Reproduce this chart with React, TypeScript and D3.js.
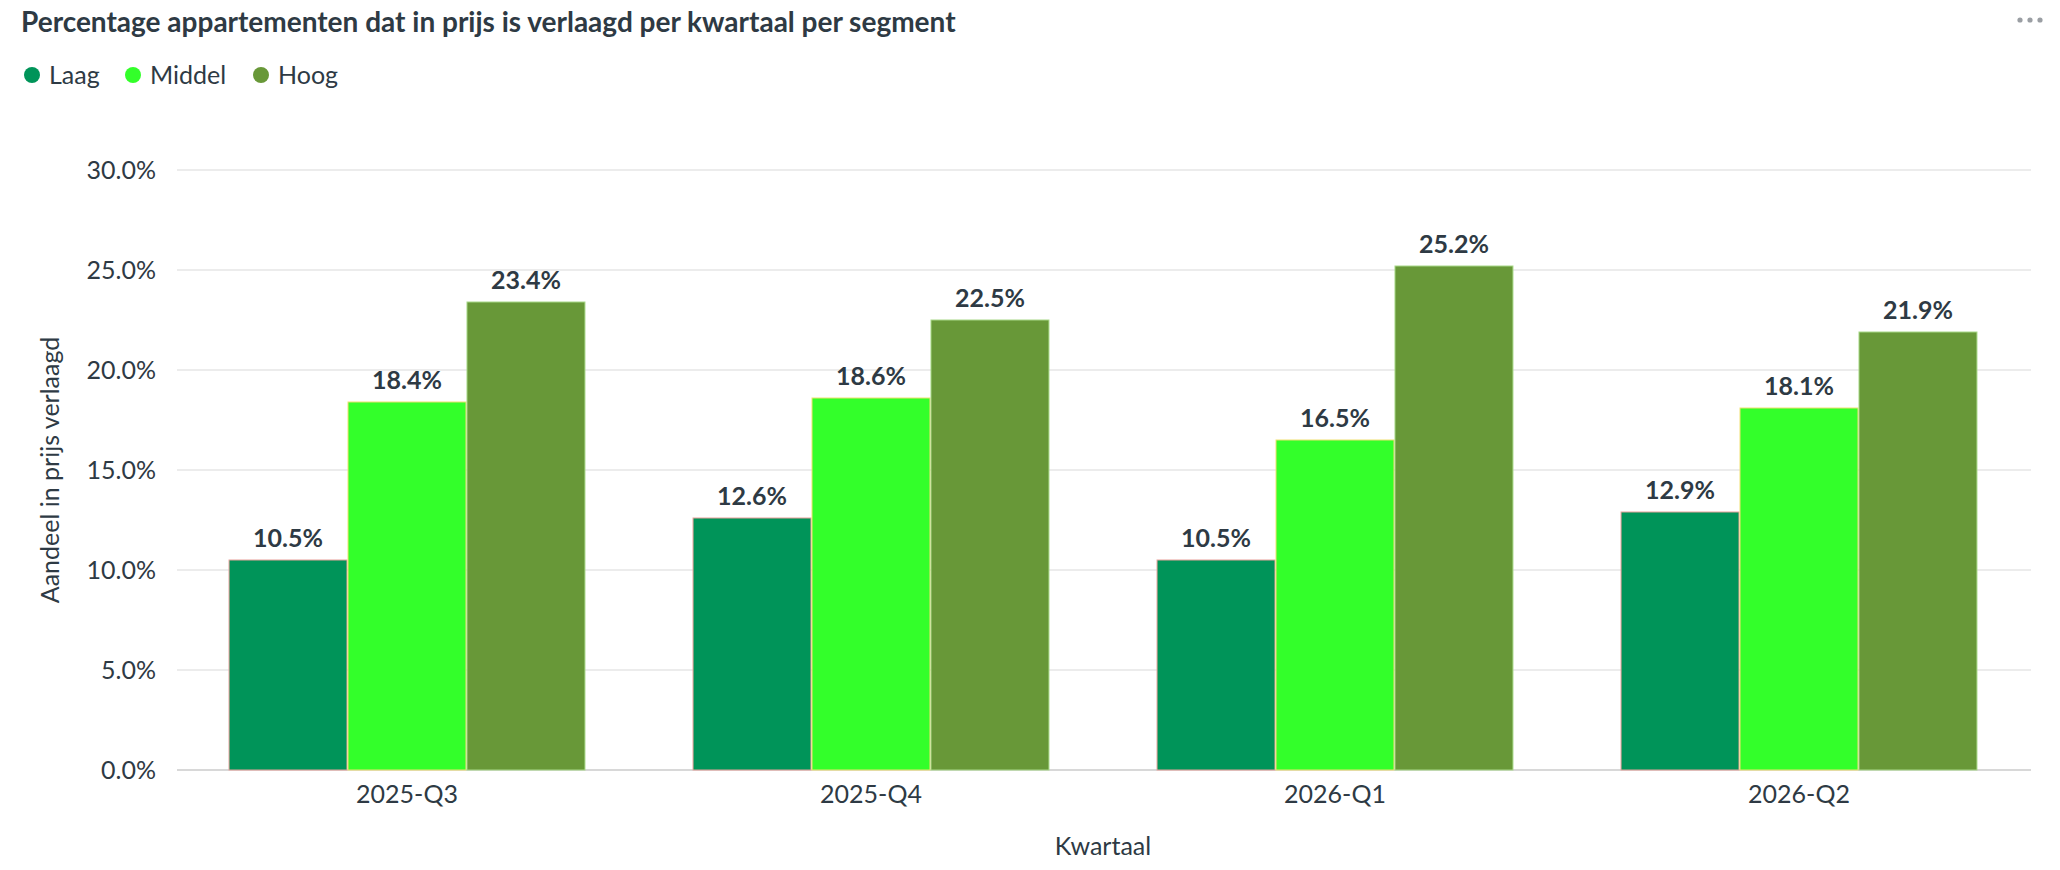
import { useEffect, useRef } from 'react'
import * as d3 from 'd3'

const quarters = ['2025-Q3', '2025-Q4', '2026-Q1', '2026-Q2']
const segments = ['Laag', 'Middel', 'Hoog']
const laag = [10.5, 12.6, 10.5, 12.9]
const middel = [18.4, 18.6, 16.5, 18.1]
const hoog = [23.4, 22.5, 25.2, 21.9]
const yTicks = [0, 5, 10, 15, 20, 25, 30]

const colors = ['#009459', '#33ff2a', '#689838']
const strokes = ['#e8a09a', '#f0e070', '#a8d888']

const W = 2060
const H = 870
const textColor = '#2e3a44'
const font = 'Lato, "Open Sans", sans-serif'

export default function App() {
  const ref = useRef<SVGSVGElement | null>(null)

  useEffect(() => {
    const svg = d3.select(ref.current)
    svg.selectAll('*').remove()

    const margin = { top: 170, right: 29, bottom: 100, left: 175 }
    const series = [laag, middel, hoog]

    const x0 = d3
      .scaleBand()
      .domain(quarters)
      .range([margin.left, W - margin.right])
      .paddingInner(0)
      .paddingOuter(0)

    // bars of one quarter take about 77% of the band
    const x1 = d3
      .scaleBand()
      .domain(segments)
      .range([0, x0.bandwidth()])
      .paddingOuter(0.45)
      .paddingInner(0)

    const y = d3.scaleLinear().domain([0, 30]).range([H - margin.bottom, margin.top])

    // title
    svg
      .append('text')
      .attr('x', 21)
      .attr('y', 32)
      .attr('font-family', font)
      .attr('font-weight', 700)
      .attr('font-size', 28)
      .attr('fill', textColor)
      .text('Percentage appartementen dat in prijs is verlaagd per kwartaal per segment')

    // menu dots
    svg
      .selectAll('.dot')
      .data([0, 1, 2])
      .enter()
      .append('circle')
      .attr('cx', (d) => 2020 + d * 10)
      .attr('cy', 20)
      .attr('r', 2.6)
      .attr('fill', '#9a9ea3')

    // legend
    const legendX = [32, 133, 261]
    const legend = svg
      .selectAll('.legend')
      .data(segments)
      .enter()
      .append('g')
      .attr('transform', (d, i) => `translate(${legendX[i]}, 75)`)
    legend
      .append('circle')
      .attr('r', 8)
      .attr('fill', (d, i) => colors[i])
    legend
      .append('text')
      .attr('x', 17)
      .attr('y', 8.5)
      .attr('font-family', font)
      .attr('font-size', 25)
      .attr('fill', textColor)
      .text((d) => d)

    // grid + y labels
    svg
      .append('g')
      .selectAll('line')
      .data(yTicks)
      .enter()
      .append('line')
      .attr('x1', margin.left + 2)
      .attr('x2', W - margin.right)
      .attr('y1', (d) => y(d))
      .attr('y2', (d) => y(d))
      .attr('stroke', (d) => (d === 0 ? '#d8d8d8' : '#ececec'))
      .attr('stroke-width', 2)

    svg
      .append('g')
      .selectAll('text')
      .data(yTicks)
      .enter()
      .append('text')
      .attr('x', 156)
      .attr('y', (d) => y(d) + 8.5)
      .attr('text-anchor', 'end')
      .attr('font-family', font)
      .attr('font-size', 25)
      .attr('fill', textColor)
      .text((d) => d3.format('.1f')(d) + '%')

    // bars
    const groups = svg
      .append('g')
      .selectAll('g')
      .data(quarters)
      .enter()
      .append('g')
      .attr('transform', (d) => `translate(${x0(d)},0)`)

    groups
      .selectAll('rect')
      .data((q, qi) => segments.map((s, si) => ({ s, si, v: series[si][qi] })))
      .enter()
      .append('rect')
      .attr('x', (d) => x1(d.s)! + 0.5)
      .attr('y', (d) => y(d.v))
      .attr('width', x1.bandwidth() - 1)
      .attr('height', (d) => y(0) - y(d.v))
      .attr('fill', (d) => colors[d.si])
      .attr('stroke', (d) => strokes[d.si])
      .attr('stroke-width', 1)

    groups
      .selectAll('.val')
      .data((q, qi) => segments.map((s, si) => ({ s, si, v: series[si][qi] })))
      .enter()
      .append('text')
      .attr('x', (d) => x1(d.s)! + x1.bandwidth() / 2)
      .attr('y', (d) => y(d.v) - 13)
      .attr('text-anchor', 'middle')
      .attr('font-family', font)
      .attr('font-weight', 700)
      .attr('font-size', 25)
      .attr('fill', textColor)
      .text((d) => d3.format('.1f')(d.v) + '%')

    // x labels
    svg
      .append('g')
      .selectAll('text')
      .data(quarters)
      .enter()
      .append('text')
      .attr('x', (d) => x0(d)! + x0.bandwidth() / 2)
      .attr('y', 803)
      .attr('text-anchor', 'middle')
      .attr('font-family', font)
      .attr('font-size', 25)
      .attr('fill', textColor)
      .text((d) => d)

    // axis titles
    svg
      .append('text')
      .attr('x', (margin.left + W - margin.right) / 2)
      .attr('y', 855)
      .attr('text-anchor', 'middle')
      .attr('font-family', font)
      .attr('font-size', 25)
      .attr('fill', textColor)
      .text('Kwartaal')

    svg
      .append('text')
      .attr('transform', `translate(59, ${(y(0) + y(30)) / 2}) rotate(-90)`)
      .attr('text-anchor', 'middle')
      .attr('font-family', font)
      .attr('font-size', 25)
      .attr('fill', textColor)
      .text('Aandeel in prijs verlaagd')
  }, [])

  return (
    <div style={{ position: 'absolute', left: 0, top: 0, background: '#fff' }}>
      <svg width={W} height={H} ref={ref} style={{ display: 'block' }} />
    </div>
  )
}
